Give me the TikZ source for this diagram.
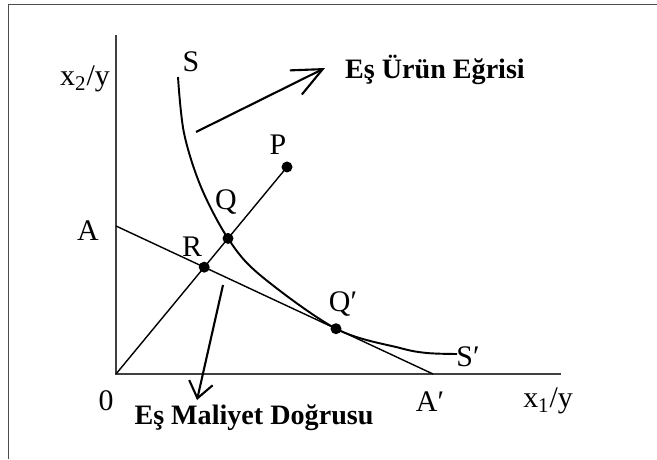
\documentclass[tikz,border=0pt]{standalone}
\usepackage{fontspec}
\setmainfont{Liberation Serif}
\usetikzlibrary{arrows.meta, calc}

\begin{document}
\begin{tikzpicture}[
    frame/.style   = {line width=1.1pt, draw=black!70},
    axis/.style    = {line width=0.9pt, draw=black!75},
    ln/.style      = {line width=0.8pt, draw=black},
    isocurve/.style = {line width=1.1pt, draw=black},
    dot/.style     = {circle, fill=black, inner sep=0pt, minimum size=0.22cm},
    lbl/.style     = {font=\fontsize{17}{20}\selectfont, inner sep=0pt},
    tag/.style     = {font=\fontsize{16}{19}\selectfont\bfseries, inner sep=0pt},
    pointer/.style = {line width=1.2pt,
                      -{Straight Barb[length=0.6cm, width=0.54cm]}},
    spointer/.style = {line width=1.2pt,
                      -{Straight Barb[length=0.32cm, width=0.48cm]}},
]

\useasboundingbox (-2.32,-1.70) rectangle (10.82,7.48);

%% ============================================================
%% FRAME AND AXES
%% ============================================================
\draw[frame] (-2.15,-1.70) -- (-2.15,7.39) -- (10.82,7.39);

\coordinate (O)    at (0, 0);
\coordinate (Ytop) at (0, 6.78);
\coordinate (Xend) at (8.90, 0);

\draw[axis] (Ytop) -- (O) -- (Xend);

%% ============================================================
%% COST LINE, RAY, ISOQUANT
%% ============================================================
\coordinate (A)  at (0, 2.96);
\coordinate (Ap) at (6.34, 0);
\coordinate (P)  at (3.42, 4.14);
\coordinate (R)  at (intersection of O--P and A--Ap);
\coordinate (Q)  at ($(O)!0.655!(P)$);
\coordinate (Qp) at ($(A)!0.694!(Ap)$);

\draw[ln] (A) -- (Ap);
\draw[ln] (O) -- (P);

\draw[isocurve] plot[smooth, tension=0.55] coordinates
    {(1.24,5.94) (1.36,4.82) (1.70,3.74) (Q) (2.88,1.98) (Qp)
     (5.68,0.52) (6.22,0.42) (6.82,0.40)};

\node[dot] (dotP)  at (P)  {};
\node[dot] (dotQ)  at (Q)  {};
\node[dot] (dotR)  at (R)  {};
\node[dot] (dotQp) at (Qp) {};

%% ============================================================
%% LABELS
%% ============================================================
\node[lbl] (ylab)  at (-0.62, 5.90) {x\textsubscript{2}/y};
\node[lbl] (xlab)  at (8.64, -0.54) {x\textsubscript{1}/y};
\node[lbl] (zero)  at (-0.20, -0.54) {0};
\node[lbl] (labA)  at (-0.56, 2.86) {A};
\node[lbl] (labAp) at (6.28, -0.56) {A′};
\node[lbl] (labS)  at (1.50, 6.24) {S};
\node[lbl] (labSp) at (7.04, 0.34) {S′};
\node[lbl] (labP)  at (3.24, 4.58) {P};
\node[lbl] (labQ)  at (2.20, 3.44) {Q};
\node[lbl] (labR)  at (1.52, 2.54) {R};
\node[lbl] (labQp) at (4.54, 1.40) {Q′};

%% ============================================================
%% ANNOTATIONS
%% ============================================================
\node[tag] (isoTxt)  at (6.38, 6.08)  {Eş Ürün Eğrisi};
\node[tag] (costTxt) at (2.76, -0.88) {Eş Maliyet Doğrusu};

\coordinate (isoTail)  at (1.60, 4.84);
\coordinate (isoHead)  at (4.18, 6.12);
\coordinate (costTail) at (2.14, 1.78);
\coordinate (costHead) at (1.62, -0.52);

\draw[pointer]  (isoTail)  -- (isoHead);
\draw[spointer] (costTail) -- (costHead);

\end{tikzpicture}
\end{document}
